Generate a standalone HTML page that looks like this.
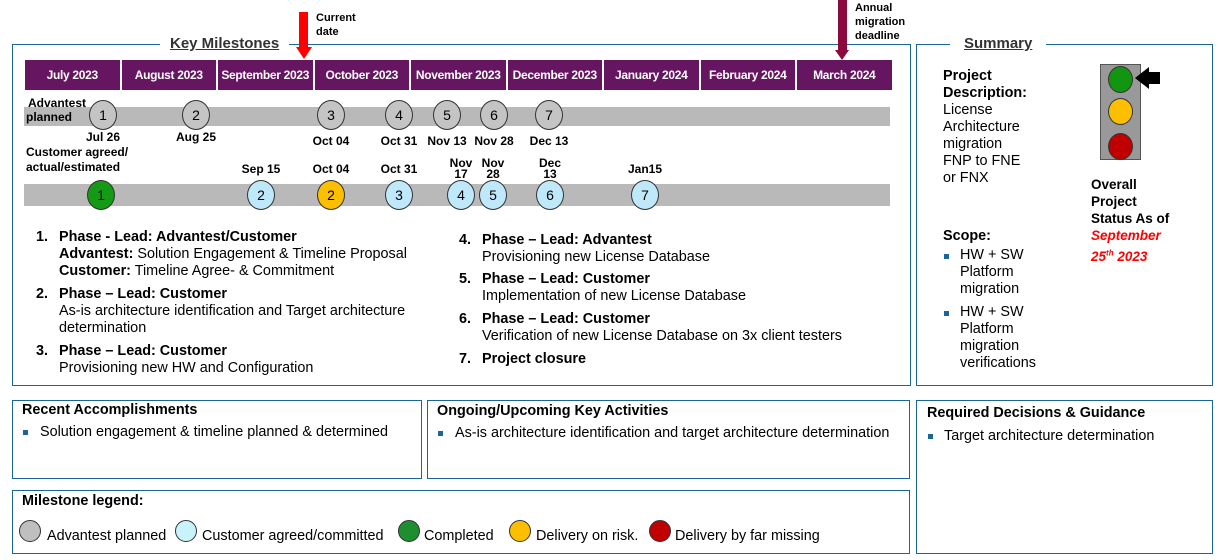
<!DOCTYPE html>
<html><head><meta charset="utf-8"><style>
body{margin:0;width:1224px;height:560px;background:#fff;font-family:"Liberation Sans",Arial,sans-serif;position:relative;overflow:hidden;color:#000}
.a{position:absolute;white-space:nowrap}
.box{position:absolute;border:1.5px solid #1c6697;box-sizing:border-box}
.m{position:absolute;top:60px;height:30px;background:#661560;color:#fff;font-weight:bold;font-size:12px;display:flex;align-items:center;justify-content:center;letter-spacing:-0.3px}
.bar{position:absolute;left:24px;width:866px;background:#b9b9b9}
.c{position:absolute;width:28px;height:30px;border-radius:50%;border:1px solid #333;box-sizing:border-box;font-size:14px;display:flex;align-items:center;justify-content:center}
.lb{position:absolute;font-size:12px;font-weight:bold;text-align:center;line-height:11px;transform:translateX(-50%)}
.t{font-size:14.4px;position:absolute;white-space:nowrap;line-height:17px}
.b{font-weight:bold}
.h{font-size:14.4px;font-weight:bold;position:absolute}
.bl{position:absolute;width:5px;height:5px;background:#1c6697}
.lg{position:absolute;width:22px;height:22px;border-radius:50%;border:1px solid #333;box-sizing:border-box;top:520px}
</style></head><body>
<div class="box" style="left:12px;top:44px;width:899px;height:342px"></div>
<div class="a" style="left:160px;top:35px;background:#fff;padding:0 10px;font-size:15px;font-weight:bold;text-decoration:underline;color:#333">Key Milestones</div>
<div class="box" style="left:916px;top:44px;width:297px;height:342px"></div>
<div class="a" style="left:950px;top:35px;background:#fff;padding:0 14px;font-size:15px;font-weight:bold;text-decoration:underline;color:#333">Summary</div>

<div class="a" style="left:299px;top:12px;width:9px;height:36px;background:#f00"></div>
<div class="a" style="left:296px;top:47px;width:0;height:0;border-left:8px solid transparent;border-right:8px solid transparent;border-top:12px solid #f00"></div>
<div class="a b" style="left:316px;top:11px;font-size:11px;line-height:14px">Current<br>date</div>
<div class="a" style="left:838px;top:0;width:9px;height:52px;background:#8b0a3e"></div>
<div class="a" style="left:835px;top:50px;width:0;height:0;border-left:7px solid transparent;border-right:7px solid transparent;border-top:10px solid #8b0a3e"></div>
<div class="a b" style="left:855px;top:1px;font-size:11px;line-height:14px">Annual<br>migration<br>deadline</div>

<div id="months"></div>
<div class="bar" style="top:107px;height:19px"></div>
<div class="bar" style="top:184px;height:22px"></div>
<div class="a b" style="left:28px;top:96px;font-size:12px;line-height:14px">Advantest<br><span style="margin-left:-2px">planned</span></div>
<div class="a b" style="left:26px;top:145px;font-size:12px;line-height:15px">Customer agreed/<br>actual/estimated</div>
<div id="marks"></div>

<div>
<div class="t b" style="left:36px;top:229px">1.</div><div class="t" style="left:59px;top:229px"><b>Phase - Lead: Advantest/Customer</b><br><b>Advantest:</b> Solution Engagement &amp; Timeline Proposal<br><b>Customer:</b> Timeline Agree- &amp; Commitment</div>
<div class="t b" style="left:36px;top:286px">2.</div><div class="t" style="left:59px;top:286px"><b>Phase – Lead: Customer</b><br>As-is architecture identification and Target architecture<br>determination</div>
<div class="t b" style="left:36px;top:343px">3.</div><div class="t" style="left:59px;top:343px"><b>Phase – Lead: Customer</b><br>Provisioning new HW and Configuration</div>
</div>
<div>
<div class="t b" style="left:459px;top:232px">4.</div><div class="t" style="left:482px;top:232px"><b>Phase – Lead: Advantest</b><br>Provisioning new License Database</div>
<div class="t b" style="left:459px;top:271px">5.</div><div class="t" style="left:482px;top:271px"><b>Phase – Lead: Customer</b><br>Implementation of new License Database</div>
<div class="t b" style="left:459px;top:311px">6.</div><div class="t" style="left:482px;top:311px"><b>Phase – Lead: Customer</b><br>Verification of new License Database on 3x client testers</div>
<div class="t b" style="left:459px;top:351px">7.</div><div class="t b" style="left:482px;top:351px">Project closure</div>
</div>

<div class="t" style="left:943px;top:68px"><b>Project<br>Description:</b><br>License<br>Architecture<br>migration<br>FNP to FNE<br>or FNX</div>
<div class="t b" style="left:943px;top:228px">Scope:</div>
<div class="bl" style="left:944px;top:254px"></div><div class="t" style="left:960px;top:247px">HW + SW<br>Platform<br>migration</div>
<div class="bl" style="left:944px;top:311px"></div><div class="t" style="left:960px;top:304px">HW + SW<br>Platform<br>migration<br>verifications</div>
<div class="a" style="left:1100px;top:64px;width:41px;height:96px;background:#999;border:1px solid #555;box-sizing:border-box"></div>
<div class="a" style="left:1108px;top:66px;width:23px;height:25px;border-radius:50%;background:#129612;border:1px solid #333"></div>
<div class="a" style="left:1108px;top:98px;width:23px;height:25px;border-radius:50%;background:#fbbf00;border:1px solid #333"></div>
<div class="a" style="left:1108px;top:133px;width:23px;height:25px;border-radius:50%;background:#c00000;border:1px solid #333"></div>
<div class="a" style="left:1148px;top:72px;width:12px;height:12px;background:#000"></div>
<div class="a" style="left:1135px;top:67px;width:0;height:0;border-top:11px solid transparent;border-bottom:11px solid transparent;border-right:14px solid #000"></div>
<div class="t b" style="left:1091px;top:176px;font-size:13.5px">Overall<br>Project<br>Status As of<br><i style="color:#f00">September<br>25<sup style="font-size:8px">th</sup> 2023</i></div>

<div class="box" style="left:12px;top:400px;width:410px;height:79px"></div>
<div class="h" style="left:22px;top:402px">Recent Accomplishments</div>
<div class="bl" style="left:23px;top:430px"></div><div class="t" style="left:40px;top:424px">Solution engagement &amp; timeline planned &amp; determined</div>
<div class="box" style="left:427px;top:400px;width:483px;height:79px"></div>
<div class="h" style="left:437px;top:403px">Ongoing/Upcoming Key Activities</div>
<div class="bl" style="left:438px;top:431px"></div><div class="t" style="left:455px;top:425px">As-is architecture identification and target architecture determination</div>
<div class="box" style="left:916px;top:400px;width:297px;height:154px"></div>
<div class="h" style="left:927px;top:405px">Required Decisions &amp; Guidance</div>
<div class="bl" style="left:928px;top:434px"></div><div class="t" style="left:944px;top:428px">Target architecture determination</div>
<div class="box" style="left:12px;top:490px;width:898px;height:64px"></div>
<div class="h" style="left:22px;top:493px">Milestone legend:</div>
<div class="lg" style="left:19px;background:#bfbfbf"></div><div class="t" style="left:47px;top:528px">Advantest planned</div>
<div class="lg" style="left:175px;background:#c9f3fb"></div><div class="t" style="left:202px;top:528px">Customer agreed/committed</div>
<div class="lg" style="left:398px;background:#1d8f2f"></div><div class="t" style="left:424px;top:528px">Completed</div>
<div class="lg" style="left:509px;background:#fbbf00"></div><div class="t" style="left:536px;top:528px">Delivery on risk.</div>
<div class="lg" style="left:649px;background:#c00000"></div><div class="t" style="left:675px;top:528px">Delivery by far missing</div>

<script>
const months=["July 2023","August 2023","September 2023","October 2023","November 2023","December 2023","January 2024","February 2024","March 2024"];
const plannedIds=["1","2","3","4","5","6","7"];
const plannedDates=["Jul 26","Aug 25","Oct 04","Oct 31","Nov 13","Nov 28","Dec 13"];
const plannedX=[103,196,331,399,447,494,549];
const custIds=["1","2","2","3","4","5","6","7"];
const custDates=["","Sep 15","Oct 04","Oct 31","Nov<br>17","Nov<br>28","Dec<br>13","Jan15"];
const custStatus=["done","cust","risk","cust","cust","cust","cust","cust"];
const custX=[101,261,331,399,461,493,550,645];
const colors={done:"#149a14",cust:"#bfe9fb",risk:"#fbbf00",plan:"#c4c4c4"};
const mroot=document.getElementById('months');
const mx0=24,mw=96.5;
months.forEach((m,i)=>{const d=document.createElement('div');d.className='m';


d.style.left=(mx0+i*mw+1)+'px';d.style.width=(mw-2)+'px';d.textContent=m;mroot.appendChild(d);});
const root=document.getElementById('marks');
plannedIds.forEach((id,i)=>{const c=document.createElement('div');c.className='c';


c.style.left=(plannedX[i]-14)+'px';c.style.top='100px';c.style.background=colors.plan;c.textContent=id;root.appendChild(c);
const l=document.createElement('div');l.className='lb';


l.style.left=plannedX[i]+'px';l.style.top=(i<2?132:136)+'px';l.innerHTML=plannedDates[i];root.appendChild(l);});
custIds.forEach((id,i)=>{const c=document.createElement('div');c.className='c';


c.style.left=(custX[i]-14)+'px';c.style.top='180px';c.style.background=colors[custStatus[i]];c.textContent=id;root.appendChild(c);
if(custDates[i]){const l=document.createElement('div');l.className='lb';


l.style.left=custX[i]+'px';l.style.top=(custDates[i].includes('<br>')?158:164)+'px';l.innerHTML=custDates[i];root.appendChild(l);}});
</script>
</body></html>
